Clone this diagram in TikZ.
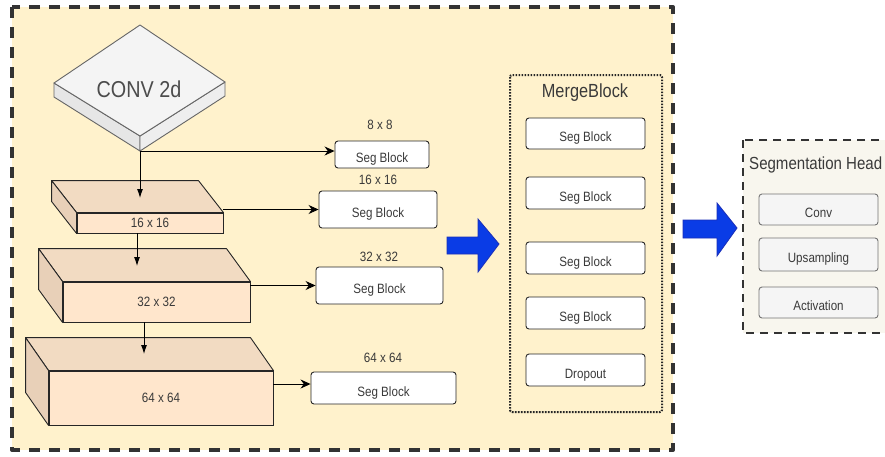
\documentclass[tikz,border=0pt]{standalone}
\usepackage{fontspec}
\setmainfont{Liberation Sans}
\newfontfamily\narrowsans[FakeStretch=0.86]{Liberation Sans}
\usetikzlibrary{arrows.meta, positioning, calc}

\definecolor{encfill}{HTML}{FFF2CC}
\definecolor{slabfront}{HTML}{FFE6CC}
\definecolor{slabtop}{HTML}{F2DBC2}
\definecolor{slabside}{HTML}{E8D0B8}
\definecolor{convtop}{HTML}{F4F4F4}
\definecolor{convleft}{HTML}{E6E6E6}
\definecolor{convright}{HTML}{EEEEEE}
\definecolor{headfill}{HTML}{F8F6EE}
\definecolor{bigarrow}{HTML}{0A3CE6}
\definecolor{bigarrowline}{HTML}{1A2FB8}
\definecolor{txt}{HTML}{3A3A3A}

\tikzset{
    segblock/.style={draw=black!85, fill=white, rounded corners=3pt, line width=0.9pt,
        font=\narrowsans\fontsize{13.5}{13.5}\selectfont, text=txt,
        text height=16pt, text depth=0pt},
    headblock/.style={draw=black!55, fill=black!4, rounded corners=3pt, line width=0.9pt,
        minimum width=119, font=\narrowsans\fontsize{13.5}{13.5}\selectfont, text=txt,
        text height=16pt, text depth=0pt},
    sizelabel/.style={font=\narrowsans\fontsize{13.5}{13.5}\selectfont, text=txt},
    slab/.style={draw=black!85, fill=slabfront, line width=0.9pt,
        font=\narrowsans\fontsize{13.5}{13.5}\selectfont, text=txt},
    link/.style={-{Stealth[length=10pt,width=9pt]}, line width=0.9pt},
    down/.style={-{Latex[length=9pt,width=6pt]}, line width=0.9pt},
    fatarrow/.style={fill=bigarrow, draw=bigarrowline, line width=0.8pt, line join=miter},
}

\begin{document}
\begin{tikzpicture}[x=1pt, y=-1pt, line join=round]
    \clip (0,0) rectangle (885,456);
    \fill[white] (0,0) rectangle (885,456);

    % encoder frame
    \draw[fill=encfill, draw=black!80, line width=4pt, dash pattern=on 11pt off 9pt]
        (12,7) rectangle (673,450);

    % CONV 2d plate
    \coordinate (cT) at (140,25);
    \coordinate (cL) at (54,83);
    \coordinate (cR) at (225,82);
    \coordinate (cB) at (140,136);
    \coordinate (convB) at (140,151);
    \filldraw[fill=convleft, draw=black!60, line width=0.9pt]
        (cL) -- (cB) -- (convB) -- ++(-86,-54) -- cycle;
    \filldraw[fill=convright, draw=black!60, line width=0.9pt]
        (cB) -- (cR) -- ++(0,14) -- (convB) -- cycle;
    \filldraw[fill=convtop, draw=black!60, line width=0.9pt]
        (cT) -- (cR) -- (cB) -- (cL) -- cycle;
    \node[font=\narrowsans\fontsize{23}{23}\selectfont, text=black!70] (conv) at (139,89) {CONV 2d};

    % feature slabs (front face + top + side)
    \node[slab, minimum width=146, minimum height=20] (f16) at (150,223) {};
    \filldraw[fill=slabtop, draw=black!85, line width=0.9pt]
        (f16.north west) -- ++(-25,-32) -- ($(f16.north east)+(-25,-32)$) -- (f16.north east) -- cycle;
    \filldraw[fill=slabside, draw=black!85, line width=0.9pt]
        (f16.north west) -- ++(-25,-32) -- ($(f16.south west)+(-25,-32)$) -- (f16.south west) -- cycle;
    \node[slab, minimum width=146, minimum height=20] at (f16) {16 x 16};

    \node[slab, minimum width=187, minimum height=40] (f32) at (156.5,302) {};
    \filldraw[fill=slabtop, draw=black!85, line width=0.9pt]
        (f32.north west) -- ++(-24,-33) -- ($(f32.north east)+(-24,-33)$) -- (f32.north east) -- cycle;
    \filldraw[fill=slabside, draw=black!85, line width=0.9pt]
        (f32.north west) -- ++(-24,-33) -- ($(f32.south west)+(-24,-33)$) -- (f32.south west) -- cycle;
    \node[slab, minimum width=187, minimum height=40] at (f32) {32 x 32};

    \node[slab, minimum width=224, minimum height=54] (f64) at (161,398) {};
    \filldraw[fill=slabtop, draw=black!85, line width=0.9pt]
        (f64.north west) -- ++(-23,-33) -- ($(f64.north east)+(-23,-33)$) -- (f64.north east) -- cycle;
    \filldraw[fill=slabside, draw=black!85, line width=0.9pt]
        (f64.north west) -- ++(-23,-33) -- ($(f64.south west)+(-23,-33)$) -- (f64.south west) -- cycle;
    \node[slab, minimum width=224, minimum height=54] at (f64) {64 x 64};

    % seg blocks per scale
    \node[segblock, minimum width=94, minimum height=27] (s8) at (382,154.5) {Seg Block};
    \node[segblock, minimum width=118, minimum height=37] (s16) at (378,209.5) {Seg Block};
    \node[segblock, minimum width=127, minimum height=37] (s32) at (379.5,285.5) {Seg Block};
    \node[segblock, minimum width=145, minimum height=32] (s64) at (383.5,388) {Seg Block};
    \node[sizelabel] at (380,125) {8 x 8};
    \node[sizelabel] at (378,180) {16 x 16};
    \node[sizelabel] at (379,257) {32 x 32};
    \node[sizelabel] at (383,358) {64 x 64};

    % downsampling path
    \coordinate (t16) at (140,198);
    \coordinate (b16) at (137,233);
    \coordinate (t32) at (137,266);
    \coordinate (b32) at (144,322);
    \coordinate (t64) at (144,354);
    \draw[down] (convB) -- (t16);
    \draw[down] (b16) -- (t32);
    \draw[down] (b32) -- (t64);

    % taps to the seg blocks
    \draw[link] (convB) -- (convB -| s8.west);
    \draw[link] (f16.east |- s16.west) -- (s16.west);
    \draw[link] (f32.east |- s32.west) -- (s32.west);
    \draw[link] (f64.east |- 0,384) -- (s64.west |- 0,384);

    % merge block
    \draw[black!85, line width=2pt, dash pattern=on 1.6pt off 1.4pt, rounded corners=2pt]
        (510,75) rectangle (662,412);
    \node[font=\narrowsans\fontsize{19}{19}\selectfont, text=txt] (mtitle) at (585,93) {MergeBlock};
    \node[segblock, minimum width=119, minimum height=31] (m1) at (585.5,133.5) {Seg Block};
    \node[segblock, minimum width=119, minimum height=32] (m2) at (585.5,193) {Seg Block};
    \node[segblock, minimum width=119, minimum height=32] (m3) at (585.5,258) {Seg Block};
    \node[segblock, minimum width=119, minimum height=32] (m4) at (585.5,313) {Seg Block};
    \node[segblock, minimum width=119, minimum height=32] (m5) at (585.5,370) {Dropout};

    % big blue arrows
    \filldraw[fatarrow] (447,237) -- (478,237) -- (478,219) -- (499,244)
        -- (478,272) -- (478,254) -- (447,254) -- cycle;
    \filldraw[fatarrow] (683,220) -- (717,220) -- (717,203) -- (737,228)
        -- (717,256) -- (717,238) -- (683,238) -- cycle;

    % segmentation head
    \draw[fill=headfill, draw=black!80, line width=2.5pt, dash pattern=on 8pt off 6pt]
        (743,140) rectangle (905,333);
    \node[anchor=west, inner sep=0pt, font=\narrowsans\fontsize{17.5}{17.5}\selectfont, text=txt] (htitle) at (749,165) {Segmentation Head};
    \node[headblock, minimum height=31] (hconv) at (818.5,209.5) {Conv};
    \node[headblock, minimum height=33] (hup) at (818.5,254.5) {Upsampling};
    \node[headblock, minimum height=31] (hact) at (818.5,302.5) {Activation};
\end{tikzpicture}
\end{document}
